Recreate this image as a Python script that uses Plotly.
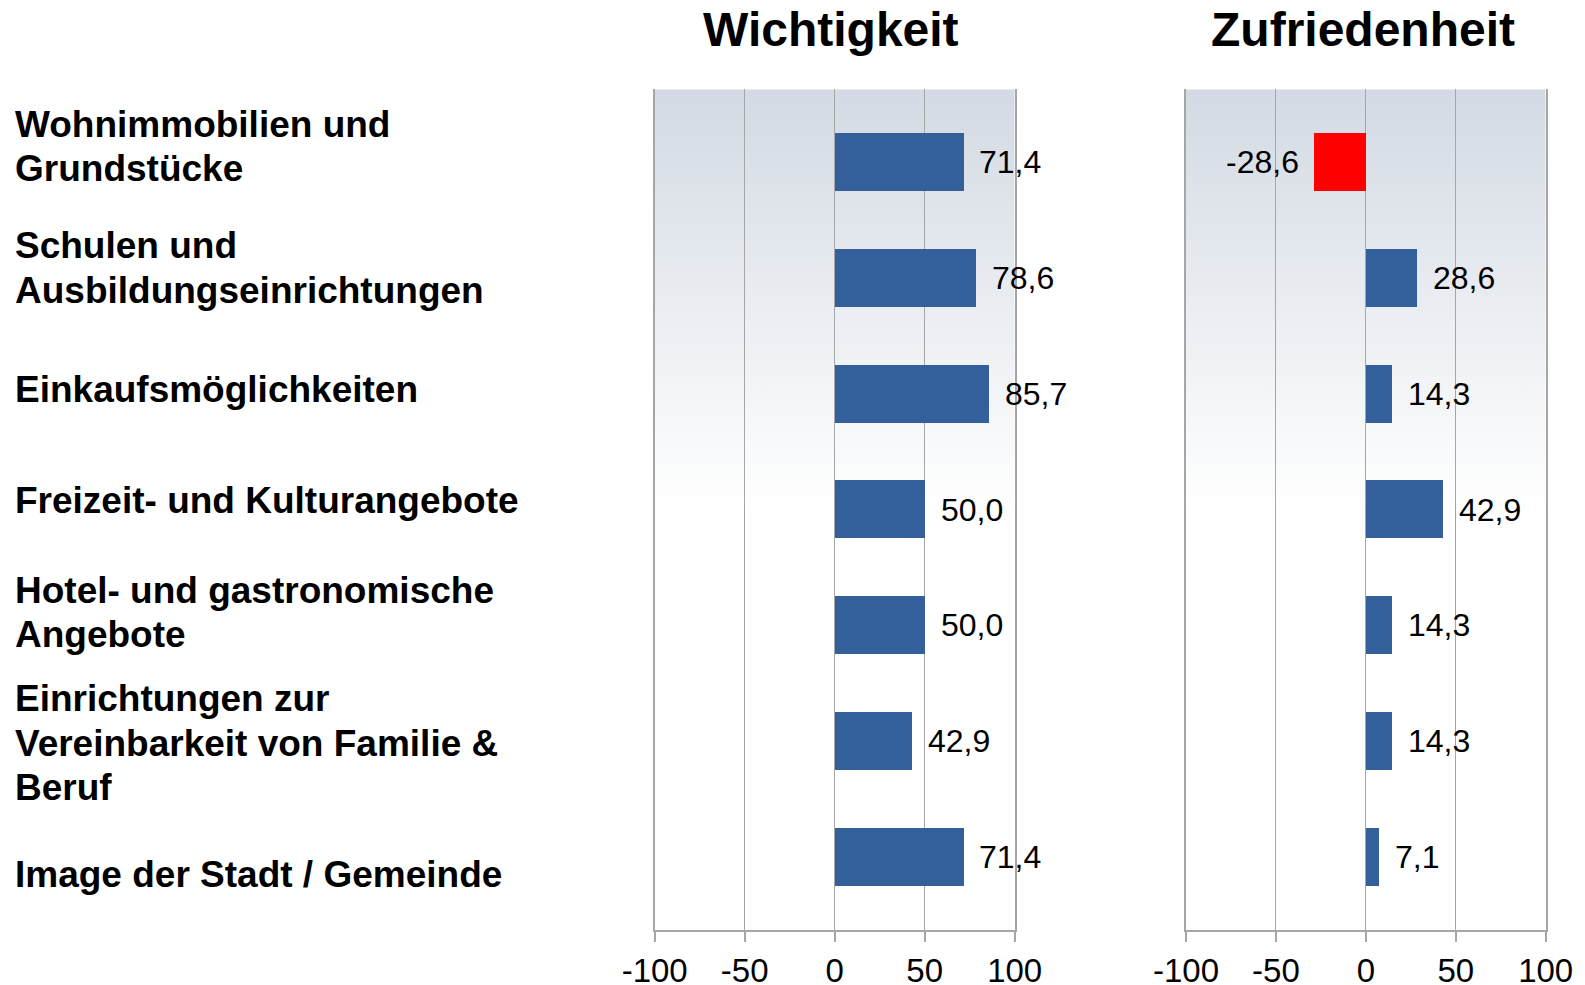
import base64
import plotly.graph_objects as go

categories = [
    "Wohnimmobilien und<br>Grundstücke",
    "Schulen und<br>Ausbildungseinrichtungen",
    "Einkaufsmöglichkeiten",
    "Freizeit- und Kulturangebote",
    "Hotel- und gastronomische<br>Angebote",
    "Einrichtungen zur<br>Vereinbarkeit von Familie &<br>Beruf",
    "Image der Stadt / Gemeinde",
]
wichtigkeit = [71.4, 78.6, 85.7, 50.0, 50.0, 42.9, 71.4]
zufriedenheit = [-28.6, 28.6, 14.3, 42.9, 14.3, 14.3, 7.1]
tick_values = [-100, -50, 0, 50, 100]
tick_labels = ["-100", "-50", "0", "50", "100"]
titles = ["Wichtigkeit", "Zufriedenheit"]

# vertical offset (px, downwards) of each label block relative to its bar
label_offset = [-16, -10, -4, -9, -13, 2, 17]
LINE_GAP = 44.5

BLUE = "#335f9a"
RED = "#ff0000"
GRID = "#a6a6a6"
FONT = "Liberation Sans, Arial, sans-serif"

W, H = 1585, 985
dom_left = [654.7 / W, 1014.7 / W]
dom_right = [1186 / W, 1545.7 / W]
dom_y = [1 - 930 / H, 1 - 89.3 / H]

fig = go.Figure()
fig.add_trace(go.Bar(x=wichtigkeit, y=categories, orientation="h", width=0.5,
                     marker=dict(color=BLUE, line=dict(width=0)),
                     xaxis="x", yaxis="y", hoverinfo="x"))
fig.add_trace(go.Bar(x=zufriedenheit, y=categories, orientation="h", width=0.5,
                     marker=dict(color=[RED if v < 0 else BLUE for v in zufriedenheit],
                                 line=dict(width=0)),
                     xaxis="x2", yaxis="y2", hoverinfo="x"))

xcommon = dict(range=[-100, 100], tickvals=tick_values, ticktext=tick_labels,
               showgrid=True, gridcolor=GRID, gridwidth=1, zeroline=False,
               showline=True, linecolor=GRID, linewidth=2, ticks="outside",
               ticklen=10, tickwidth=1.5, tickcolor=GRID, automargin=False,
               tickfont=dict(family=FONT, size=33, color="black"), fixedrange=True)
ycommon = dict(categoryorder="array", categoryarray=categories,
               range=[6.63, -0.63], showticklabels=False, showgrid=False,
               zeroline=False, showline=True, mirror=True, linecolor=GRID,
               linewidth=2, ticks="", domain=dom_y, fixedrange=True, automargin=False)

svg = ('<svg xmlns="http://www.w3.org/2000/svg" width="100" height="100" '
       'viewBox="0 0 100 100" preserveAspectRatio="none">'
       '<defs><linearGradient id="g" x1="0" y1="0" x2="0" y2="1">'
       '<stop offset="0" stop-color="#d3dae3"/>'
       '<stop offset="0.5" stop-color="#ffffff"/>'
       '<stop offset="1" stop-color="#ffffff"/>'
       '</linearGradient></defs>'
       '<rect x="0" y="0" width="100" height="100" fill="url(#g)"/></svg>')
src = "data:image/svg+xml;base64," + base64.b64encode(svg.encode()).decode()

images = []
for dom in (dom_left, dom_right):
    images.append(dict(source=src, xref="paper", yref="paper", x=dom[0], y=dom_y[1],
                       sizex=dom[1] - dom[0], sizey=dom_y[1] - dom_y[0],
                       xanchor="left", yanchor="top", sizing="stretch", layer="below"))

annotations = []
for cat, off in zip(categories, label_offset):
    lines = cat.split("<br>")
    n = len(lines)
    for i, line in enumerate(lines):
        dy = off + (i - (n - 1) / 2) * LINE_GAP
        annotations.append(dict(text="<b>" + line + "</b>", xref="paper", yref="y",
                                x=13 / W, y=cat, xanchor="left", yanchor="middle",
                                align="left", showarrow=False, yshift=-dy,
                                font=dict(family=FONT, size=37, color="black")))


def fmt(v):
    return f"{v:.1f}".replace(".", ",")


for xa, ya, vals in (("x", "y", wichtigkeit), ("x2", "y2", zufriedenheit)):
    for cat, v in zip(categories, vals):
        annotations.append(dict(text=fmt(v), xref=xa, yref=ya, x=v, y=cat,
                                xanchor="left" if v >= 0 else "right", yanchor="middle",
                                xshift=14 if v >= 0 else -13, showarrow=False,
                                font=dict(family=FONT, size=32, color="black")))

for t, cx in zip(titles, (831, 1363)):
    annotations.append(dict(text="<b>" + t + "</b>", xref="paper", yref="paper",
                            x=cx / W, y=1 - 30 / H, xanchor="center", yanchor="middle",
                            showarrow=False, font=dict(family=FONT, size=48, color="black")))

fig.update_layout(
    width=W, height=H, autosize=False,
    margin=dict(l=0, r=0, t=0, b=0, pad=0),
    paper_bgcolor="white", plot_bgcolor="rgba(0,0,0,0)",
    showlegend=False, bargap=0,
    xaxis=dict(domain=dom_left, anchor="y", **xcommon),
    yaxis=dict(anchor="x", **ycommon),
    xaxis2=dict(domain=dom_right, anchor="y2", **xcommon),
    yaxis2=dict(anchor="x2", **ycommon),
    images=images, annotations=annotations,
)

fig.write_html("out.html", config={"displayModeBar": False, "responsive": False},
               post_script="document.body.style.margin='0';document.body.style.overflow='hidden';")
